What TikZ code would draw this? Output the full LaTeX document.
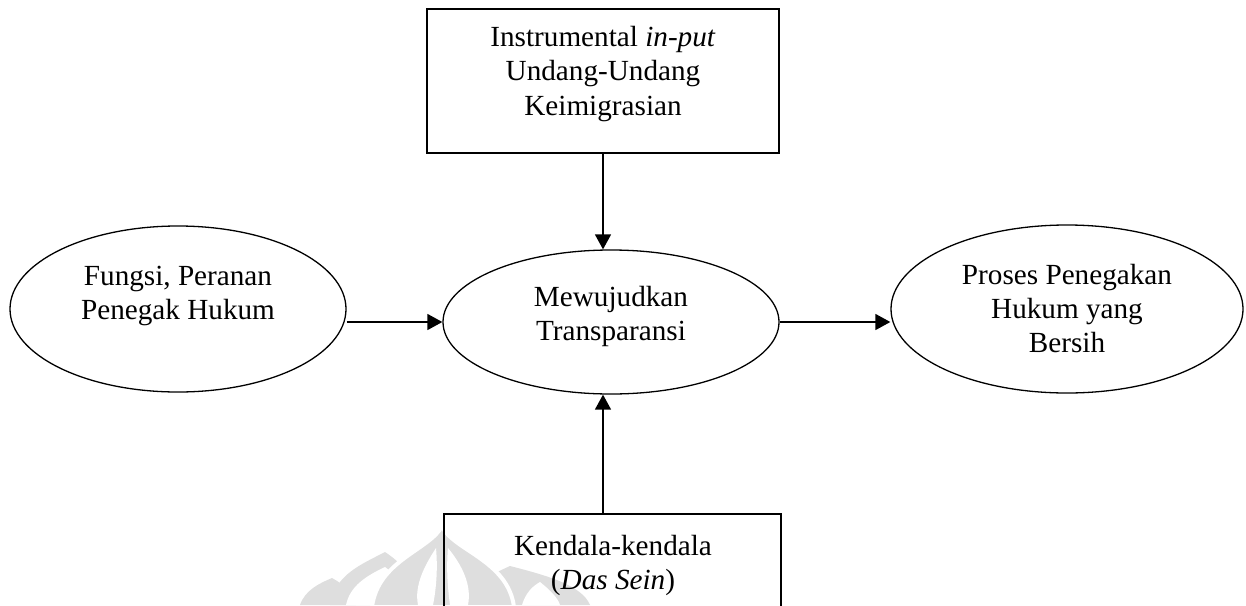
\documentclass[tikz,border=0pt]{standalone}
\usepackage{fontspec}
\setmainfont{Liberation Serif}
\usetikzlibrary{arrows.meta,shapes.geometric,calc}
\newcommand\mylines[1]{\begin{tabular}[t]{@{}c@{}}#1\end{tabular}}
\begin{document}
\begin{tikzpicture}[x=1pt,y=-1pt,
  txt/.style={font=\fontsize{29.2}{34.2}\selectfont, inner sep=0pt, anchor=base},
  oval/.style={ellipse, draw, line width=1.3pt, inner sep=0pt},
  boxn/.style={rectangle, draw, line width=2pt, inner sep=0pt},
  arr/.style={line width=1.5pt, -{Triangle[length=15pt,width=16pt]}},
  wm/.style={fill=black!13},
  wmgap/.style={fill=white}]
\useasboundingbox (0,0) rectangle (1246,605);
\clip (0,0) rectangle (1246,605);
% watermark
\fill[wm] (300,605) .. controls (305,590) and (320,583) .. (332,578) .. controls (345,585) and (355,595) .. (356,605) -- cycle;
\fill[wm] (330,605) .. controls (335,575) and (360,565) .. (385,552) .. controls (405,565) and (420,585) .. (422,605) -- cycle;
\fill[wmgap] (346,605) .. controls (350,586) and (366,576) .. (385,567) .. controls (400,578) and (407,592) .. (407,605) -- cycle;
\fill[wm] (455,605) .. controls (470,585) and (490,575) .. (510,566) .. controls (545,575) and (582,585) .. (590,605) -- cycle;
\fill[wmgap] (522,605) .. controls (526,592) and (533,586) .. (540,582) .. controls (550,590) and (558,598) .. (560,605) -- cycle;
\filldraw[wm, draw=white, line width=4pt] (372,607) .. controls (378,560) and (430,550) .. (442,526) .. controls (452,550) and (508,560) .. (514,607) -- cycle;
\fill[wmgap] (418,605) .. controls (414,585) and (425,565) .. (436,548) .. controls (438,570) and (436,590) .. (433,605) -- cycle;
\fill[wmgap] (450,605) .. controls (448,590) and (446,570) .. (448,548) .. controls (462,565) and (472,585) .. (468,605) -- cycle;
% shapes
\node[oval, minimum width=336pt, minimum height=166pt] (L) at (178,309) {};
\node[oval, minimum width=336pt, minimum height=144pt] (M) at (611,322) {};
\node[oval, minimum width=352pt, minimum height=168pt] (R) at (1067,309) {};
\node[boxn, minimum width=352pt, minimum height=144pt] (T) at (603,81) {};
\node[boxn, minimum width=337pt, minimum height=144pt] (B) at (612,586) {};
% texts
\node[txt] (Tt) at (603,46.7) {\mylines{Instrumental \textit{in-put}\\Undang-Undang\\Keimigrasian}};
\node[txt] (Lt) at (178,285) {\mylines{Fungsi, Peranan\\Penegak Hukum}};
\node[txt] (Mt) at (611,306) {\mylines{Mewujudkan\\Transparansi}};
\node[txt] (Rt) at (1067,284) {\mylines{Proses Penegakan\\Hukum yang\\Bersih}};
\node[txt] (Bt) at (613,555) {\mylines{Kendala-kendala\\(\textit{Das Sein})}};
% connectors
\draw[arr] (L.east |- M.west) -- (M.west);
\draw[arr] (M.east) -- (R.west |- M.east);
\draw[arr] (T.south) -- (T.south |- M.north);
\draw[arr] (B.north -| T.south) -- (T.south |- M.south);
\end{tikzpicture}
\end{document}
